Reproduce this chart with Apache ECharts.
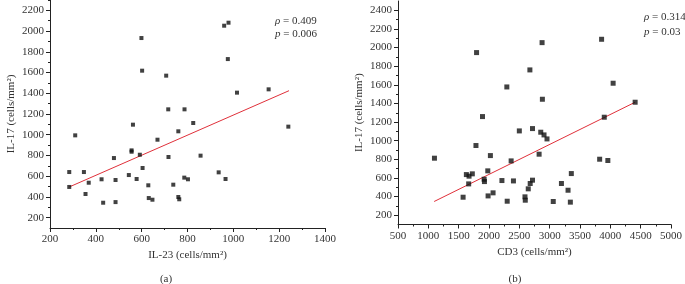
<!DOCTYPE html>
<html>
<head>
<meta charset="utf-8">
<script src="https://cdn.jsdelivr.net/npm/echarts@6/dist/echarts.min.js"></script>
<style>
html, body { margin: 0; padding: 0; background: #fff; }
#chart { width: 685px; height: 284px; }
</style>
</head>
<body>
<div id="chart"></div>
<script>
// (a) IL-23 vs IL-17
var il23 = [599, 602, 707, 716, 787, 562, 310, 760, 669, 556, 556, 592, 717, 479, 284, 348, 604, 284, 369, 425,
    486, 544, 578, 355, 432, 486, 629, 631, 647, 738, 760, 764, 786, 802, 960, 979, 976, 1016, 1154, 1240,
    825, 857, 936, 966]
var il17a = [1933, 1618, 1570, 1245, 1245, 1097, 994, 1033, 952, 849, 836, 807, 785, 775, 640, 640, 679, 496, 537, 570,
    563, 611, 573, 428, 344, 350, 512, 389, 373, 518, 399, 377, 586, 570, 2052, 2081, 1730, 1406, 1438, 1078,
    1113, 798, 637, 573]
var fitA = [[284, 496], [1243, 1425]]

// (b) CD3 vs IL-17
var cd3 = [1101, 1795, 2674, 2294, 1893, 2500, 2717, 1785, 2023, 2365, 2826, 1627, 1671, 1725, 1665, 1980, 1920, 1925,
    2213, 2403, 1573, 1985, 2067, 2300, 2593, 2598, 2647, 2679, 2717, 2875, 3856, 4046, 2880, 4409, 3900, 2853,
    2907, 2956, 3824, 3959, 3357, 3194, 3303, 3059, 3341]
var il17b = [812, 1946, 1760, 1577, 1259, 1105, 1130, 948, 840, 783, 855, 636, 619, 644, 536, 676, 586, 561,
    572, 568, 393, 407, 440, 350, 397, 361, 483, 540, 576, 2053, 2089, 1617, 1445, 1413, 1252, 1091,
    1062, 1019, 801, 787, 647, 540, 468, 347, 340]
var fitB = [[1096, 347], [4409, 1413]]

// tick labels
var yTicksA = [200, 400, 600, 800, 1000, 1200, 1400, 1600, 1800, 2000, 2200]
var yMinorA = [300, 500, 700, 900, 1100, 1300, 1500, 1700, 1900, 2100, 2300]
var yTicksB = [200, 400, 600, 800, 1000, 1200, 1400, 1600, 1800, 2000, 2200, 2400]
var yMinorB = [300, 500, 700, 900, 1100, 1300, 1500, 1700, 1900, 2100, 2300]

var font = 'Liberation Serif'
var ink = '#333'
var plain = function (v) { return String(v) }

function xAxisOf(grid, min, max, step, name) {
    return {
        gridIndex: grid, type: 'value', min: min, max: max, interval: step,
        name: name, nameLocation: 'middle', nameGap: 22,
        nameTextStyle: { fontFamily: font, fontSize: 11, color: ink },
        axisLine: { lineStyle: { color: '#222', width: 1 } },
        axisTick: { length: 4, lineStyle: { color: '#222' } },
        minorTick: { show: true, splitNumber: 2, length: 2, lineStyle: { color: '#222' } },
        axisLabel: { fontFamily: font, fontSize: 11, color: ink, margin: 6, formatter: plain },
        splitLine: { show: false }
    }
}
function yAxisOf(grid, min, max, ticks, name) {
    return {
        gridIndex: grid, type: 'value', position: 'left', min: min, max: max,
        name: name, nameLocation: 'middle', nameGap: 33,
        nameTextStyle: { fontFamily: font, fontSize: 11, color: ink },
        axisLine: { show: true, lineStyle: { color: '#222', width: 1 } },
        axisTick: { show: true, length: 4, customValues: ticks, lineStyle: { color: '#222' } },
        axisLabel: { fontFamily: font, fontSize: 11, color: ink, margin: 6, customValues: ticks, formatter: plain },
        splitLine: { show: false }
    }
}
function yMinorOf(grid, min, max, ticks) {
    return {
        gridIndex: grid, type: 'value', position: 'left', offset: 0, min: min, max: max,
        axisLine: { show: false },
        axisTick: { show: true, length: 2, customValues: ticks, lineStyle: { color: '#222' } },
        axisLabel: { show: false },
        splitLine: { show: false }
    }
}
function pts(xs, ys) {
    return xs.map(function (x, i) { return [x, ys[i]] })
}
function note(x, y, sym, val) {
    return {
        type: 'text', x: x, y: y,
        style: {
            text: '{i|' + sym + '} = ' + val,
            fontFamily: font, fontSize: 11, fill: ink, verticalAlign: 'middle',
            rich: { i: { fontStyle: 'italic', fontFamily: font, fontSize: 11 } }
        }
    }
}

var myChart = echarts.init(document.getElementById('chart'))
myChart.setOption({
    animation: false,
    backgroundColor: '#fff',
    grid: [
        { left: 50, top: 0, width: 275, height: 228 },
        { left: 398, top: 1, width: 276.5, height: 223.5 }
    ],
    xAxis: [
        xAxisOf(0, 200, 1400, 200, 'IL-23 (cells/mm²)'),
        xAxisOf(1, 500, 5000, 500, 'CD3 (cells/mm²)')
    ],
    yAxis: [
        yAxisOf(0, 100, 2300, yTicksA, 'IL-17 (cells/mm²)'),
        yMinorOf(0, 100, 2300, yMinorA),
        yAxisOf(1, 100, 2500, yTicksB, 'IL-17 (cells/mm²)'),
        yMinorOf(1, 100, 2500, yMinorB)
    ],
    series: [
        {
            type: 'scatter', xAxisIndex: 0, yAxisIndex: 0, data: pts(il23, il17a),
            symbol: 'rect', symbolSize: 4, itemStyle: { color: '#111' }
        },
        {
            type: 'line', xAxisIndex: 0, yAxisIndex: 0, data: fitA, symbol: 'none',
            lineStyle: { color: '#e0303a', width: 1 }, z: 1
        },
        {
            type: 'scatter', xAxisIndex: 1, yAxisIndex: 2, data: pts(cd3, il17b),
            symbol: 'rect', symbolSize: 5, itemStyle: { color: '#111' }
        },
        {
            type: 'line', xAxisIndex: 1, yAxisIndex: 2, data: fitB, symbol: 'none',
            lineStyle: { color: '#e0303a', width: 1 }, z: 1
        }
    ],
    graphic: [
        note(275, 21, 'ρ', '0.409'),
        note(275, 34, 'p', '0.006'),
        note(644, 17, 'ρ', '0.314'),
        note(644, 32, 'p', '0.03'),
        { type: 'text', x: 166, y: 279, style: { text: '(a)', fontFamily: font, fontSize: 11, fill: ink, align: 'center', verticalAlign: 'middle' } },
        { type: 'text', x: 515, y: 279, style: { text: '(b)', fontFamily: font, fontSize: 11, fill: ink, align: 'center', verticalAlign: 'middle' } }
    ]
})
</script>
</body>
</html>
